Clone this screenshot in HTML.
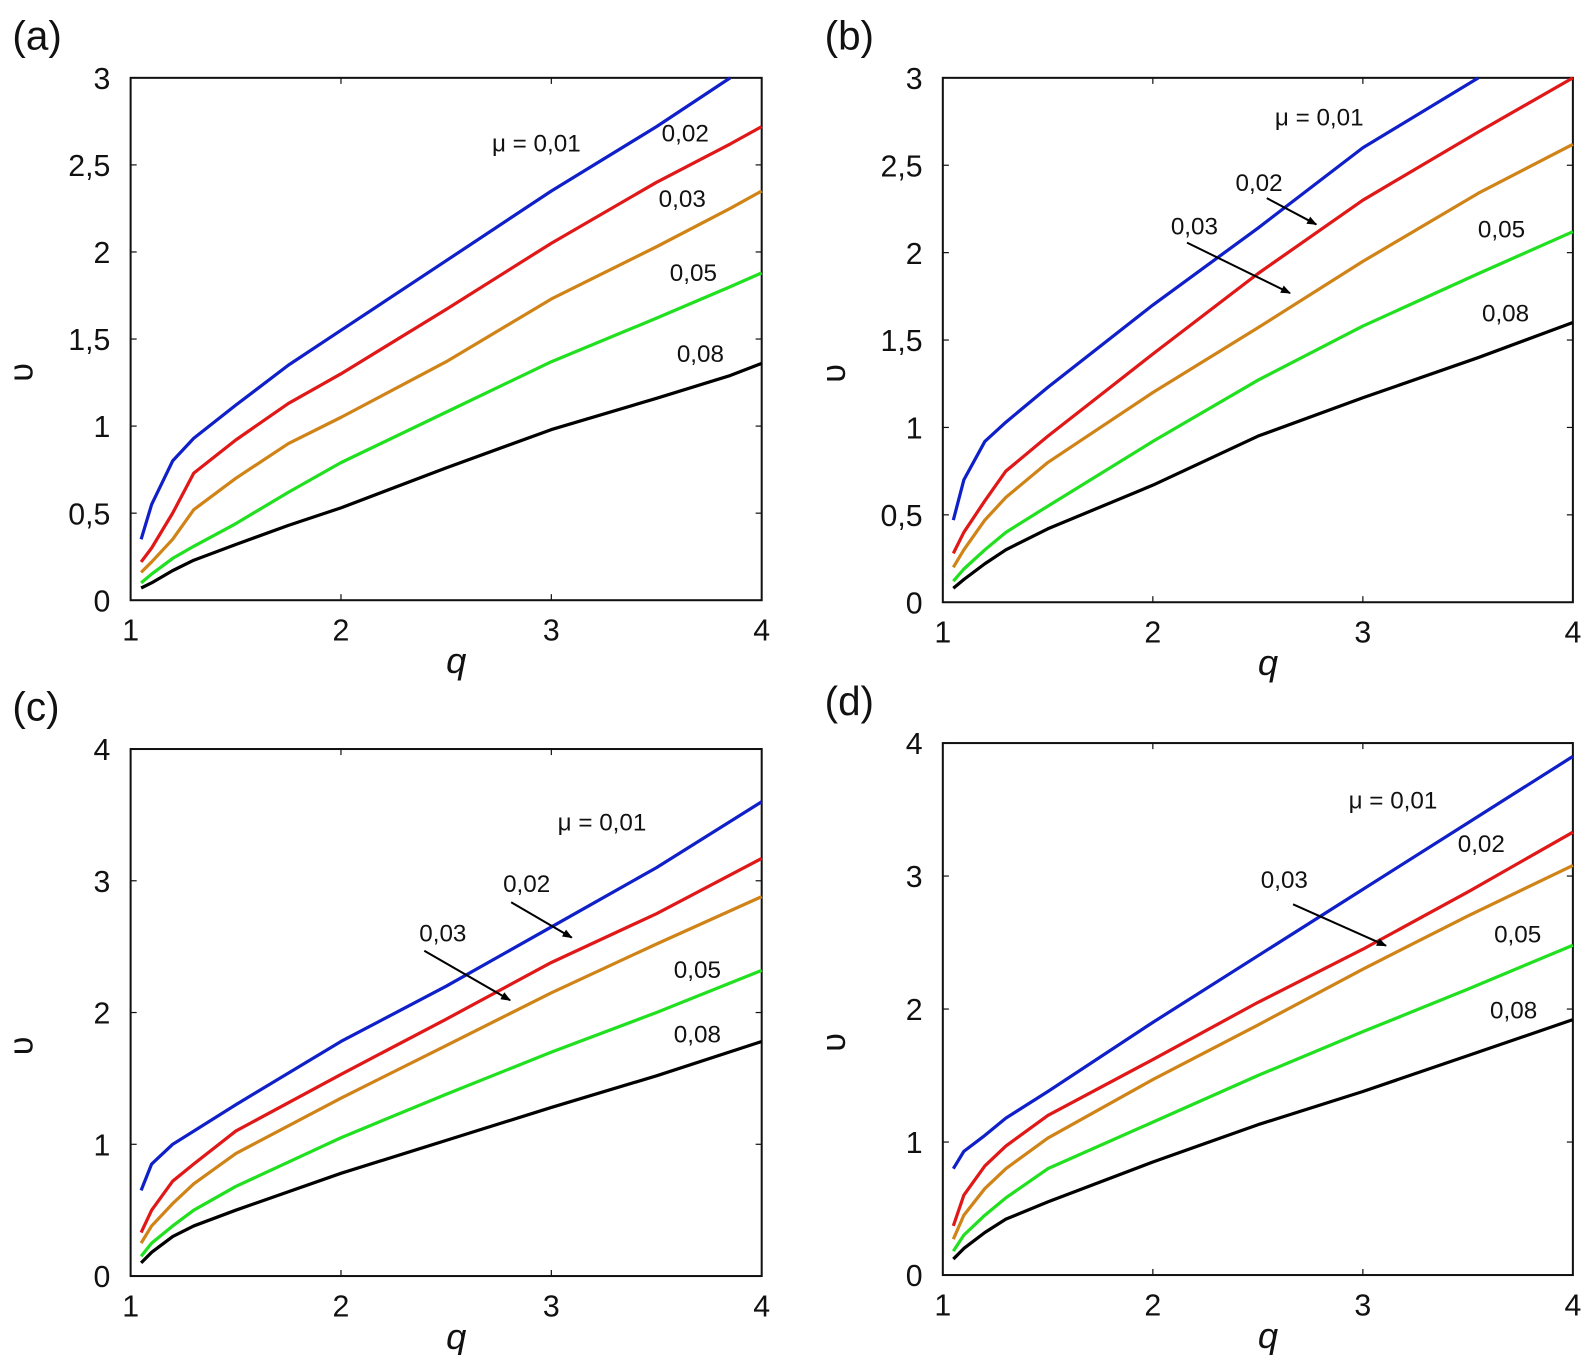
<!DOCTYPE html>
<html><head><meta charset="utf-8">
<style>
html,body{margin:0;padding:0;background:#fff;}
svg{display:block;}
text{font-family:"Liberation Sans",sans-serif;fill:#111;}
</style></head>
<body>
<svg id="fig" width="1584" height="1355" viewBox="0 0 1568 1341" xmlns="http://www.w3.org/2000/svg">
<defs><marker id="ah" markerWidth="10" markerHeight="8" refX="9" refY="4" orient="auto" markerUnits="userSpaceOnUse"><path d="M0,0 L10,4 L0,8 z" fill="#000"/></marker></defs>
</svg>
<script>
const xTicks=[1,2,3,4];
const yTicksAB=[0,0.5,1,1.5,2,2.5,3];
const yTickLabelsAB=["0","0,5","1","1,5","2","2,5","3"];
const yTicksCD=[0,1,2,3,4];
const yTickLabelsCD=["0","1","2","3","4"];
const seriesColors=["#1020c8","#e01818","#d08418","#20e020","#000000"];
const seriesNames=["mu-001","mu-002","mu-003","mu-005","mu-008"];

const qA=[1.05,1.1,1.2,1.3,1.5,1.75,2,2.5,3,3.5,3.85,4];
const aBlue=[0.35,0.55,0.8,0.93,1.12,1.35,1.55,1.95,2.35,2.72,3.0,null];
const aRed=[0.22,0.3,0.5,0.73,0.92,1.13,1.3,1.67,2.05,2.4,2.62,2.72];
const aOrange=[0.16,0.22,0.35,0.52,0.7,0.9,1.05,1.37,1.73,2.03,2.25,2.35];
const aGreen=[0.1,0.15,0.24,0.31,0.44,0.62,0.79,1.08,1.37,1.62,1.8,1.88];
const aBlack=[0.07,0.1,0.17,0.23,0.32,0.43,0.53,0.76,0.98,1.16,1.29,1.36];

const qB=[1.05,1.1,1.2,1.3,1.5,2,2.5,3,3.55,4];
const bBlue=[0.47,0.7,0.92,1.03,1.23,1.7,2.14,2.6,3.0,null];
const bRed=[0.28,0.4,0.58,0.75,0.95,1.42,1.88,2.3,2.69,3.0];
const bOrange=[0.2,0.3,0.47,0.6,0.8,1.2,1.57,1.95,2.34,2.62];
const bGreen=[0.12,0.19,0.3,0.4,0.55,0.92,1.27,1.58,1.88,2.12];
const bBlack=[0.08,0.13,0.22,0.3,0.42,0.67,0.95,1.17,1.4,1.6];

const qC=[1.05,1.1,1.2,1.3,1.5,2,2.5,3,3.5,4];
const cBlue=[0.65,0.85,1.0,1.1,1.3,1.78,2.2,2.65,3.1,3.6];
const cRed=[0.33,0.5,0.72,0.85,1.1,1.53,1.95,2.38,2.75,3.17];
const cOrange=[0.25,0.38,0.55,0.7,0.93,1.35,1.75,2.15,2.52,2.88];
const cGreen=[0.15,0.25,0.38,0.5,0.68,1.05,1.38,1.7,2.0,2.32];
const cBlack=[0.1,0.18,0.3,0.38,0.5,0.78,1.03,1.28,1.52,1.78];

const qD=[1.05,1.1,1.2,1.3,1.5,2,2.5,3,3.5,4];
const dBlue=[0.8,0.93,1.05,1.18,1.38,1.9,2.4,2.9,3.4,3.9];
const dRed=[0.37,0.6,0.82,0.97,1.2,1.62,2.05,2.45,2.88,3.33];
const dOrange=[0.27,0.45,0.65,0.8,1.03,1.47,1.88,2.3,2.7,3.08];
const dGreen=[0.18,0.3,0.45,0.58,0.8,1.15,1.5,1.83,2.15,2.48];
const dBlack=[0.12,0.2,0.32,0.42,0.55,0.85,1.13,1.38,1.65,1.92];

const panels=[
 {id:"a",L:129.3,R:754,T:76.9,B:594,ymax:3,yt:yTicksAB,yl:yTickLabelsAB,q:qA,s:[aBlue,aRed,aOrange,aGreen,aBlack],
  labels:[["μ = 0,01",487,150],["0,02",655,140],["0,03",652,205],["0,05",663,278],["0,08",670,358]],arrows:[]},
 {id:"b",L:933.3,R:1557,T:76.9,B:596,ymax:3,yt:yTicksAB,yl:yTickLabelsAB,q:qB,s:[bBlue,bRed,bOrange,bGreen,bBlack],
  labels:[["μ = 0,01",1262,124],["0,02",1223,189],["0,03",1159,232],["0,05",1463,235],["0,08",1467,318]],
  arrows:[[1254,196,1303,222],[1175,240,1277,290]]},
 {id:"c",L:129.3,R:754,T:741.3,B:1263,ymax:4,yt:yTicksCD,yl:yTickLabelsCD,q:qC,s:[cBlue,cRed,cOrange,cGreen,cBlack],
  labels:[["μ = 0,01",552,822],["0,02",498,883],["0,03",415,932],["0,05",667,968],["0,08",667,1032]],
  arrows:[[506,893,566,928],[420,941,505,990]]},
 {id:"d",L:933.3,R:1557,T:735.4,B:1262,ymax:4,yt:yTicksCD,yl:yTickLabelsCD,q:qD,s:[dBlue,dRed,dOrange,dGreen,dBlack],
  labels:[["μ = 0,01",1335,800],["0,02",1443,843],["0,03",1248,879],["0,05",1479,933],["0,08",1475,1008]],
  arrows:[[1280,895,1372,936]]}
];
const NS="http://www.w3.org/2000/svg";
const svg=document.getElementById("fig");
function mk(tag,attrs,parent){const e=document.createElementNS(NS,tag);for(const k in attrs)e.setAttribute(k,attrs[k]);(parent||svg).appendChild(e);return e;}
panels.forEach(p=>{
 const g=mk("g",{});
 
 
 const xs=v=>p.L+(v-1)/3*(p.R-p.L);
 const ys=v=>p.B-v/p.ymax*(p.B-p.T);
 const pl=mk("text",{x:p.L-117,y:p.T-28,"font-size":40},g);pl.textContent="("+p.id+")";
 
 
 const fr=mk("rect",{x:p.L,y:p.T,width:p.R-p.L,height:p.B-p.T,fill:"none",stroke:"#111","stroke-width":2},g);
 
 
 xTicks.forEach(v=>{
  mk("line",{x1:xs(v),x2:xs(v),y1:p.B,y2:p.B-6,stroke:"#111","stroke-width":1.2},g);
  mk("line",{x1:xs(v),x2:xs(v),y1:p.T,y2:p.T+6,stroke:"#111","stroke-width":1.2},g);
  const t=mk("text",{x:xs(v),y:p.B+40,"font-size":30,"text-anchor":"middle"},g);t.textContent=v;
  
  
 });
 p.yt.forEach((v,i)=>{
  mk("line",{x1:p.L,x2:p.L+6,y1:ys(v),y2:ys(v),stroke:"#111","stroke-width":1.2},g);
  mk("line",{x1:p.R,x2:p.R-6,y1:ys(v),y2:ys(v),stroke:"#111","stroke-width":1.2},g);
  const t=mk("text",{x:p.L-20,y:ys(v)+11,"font-size":30,"text-anchor":"end"},g);t.textContent=p.yl[i];
  
  
 });
 const xt=mk("text",{x:(p.L+p.R)/2+10,y:p.B+72,"font-size":36,"font-style":"italic","text-anchor":"middle"},g);xt.textContent="q";
 
 
 const yc=(p.T+p.B)/2+33;
 const yt=mk("text",{x:0,y:0,"font-size":34,"text-anchor":"middle",transform:"translate("+(p.L-97)+","+yc+") rotate(-90)"},g);yt.textContent="υ";
 
 
 p.s.forEach((arr,si)=>{
  let d="";
  arr.forEach((v,i)=>{if(v===null)return;d+=(d?"L":"M")+xs(p.q[i]).toFixed(1)+","+ys(v).toFixed(1);});
  const path=mk("path",{d:d,fill:"none",stroke:seriesColors[si],"stroke-width":3.2,"stroke-linejoin":"round"},g);
  
  
 });
 p.labels.forEach(l=>{
  const t=mk("text",{x:l[1],y:l[2],"font-size":24},g);t.textContent=l[0];
  
  
 });
 p.arrows.forEach(a=>{
  const ln=mk("line",{x1:a[0],y1:a[1],x2:a[2],y2:a[3],stroke:"#000","stroke-width":2,"marker-end":"url(#ah)"},g);
  
  
 });
});
</script>
</body></html>
